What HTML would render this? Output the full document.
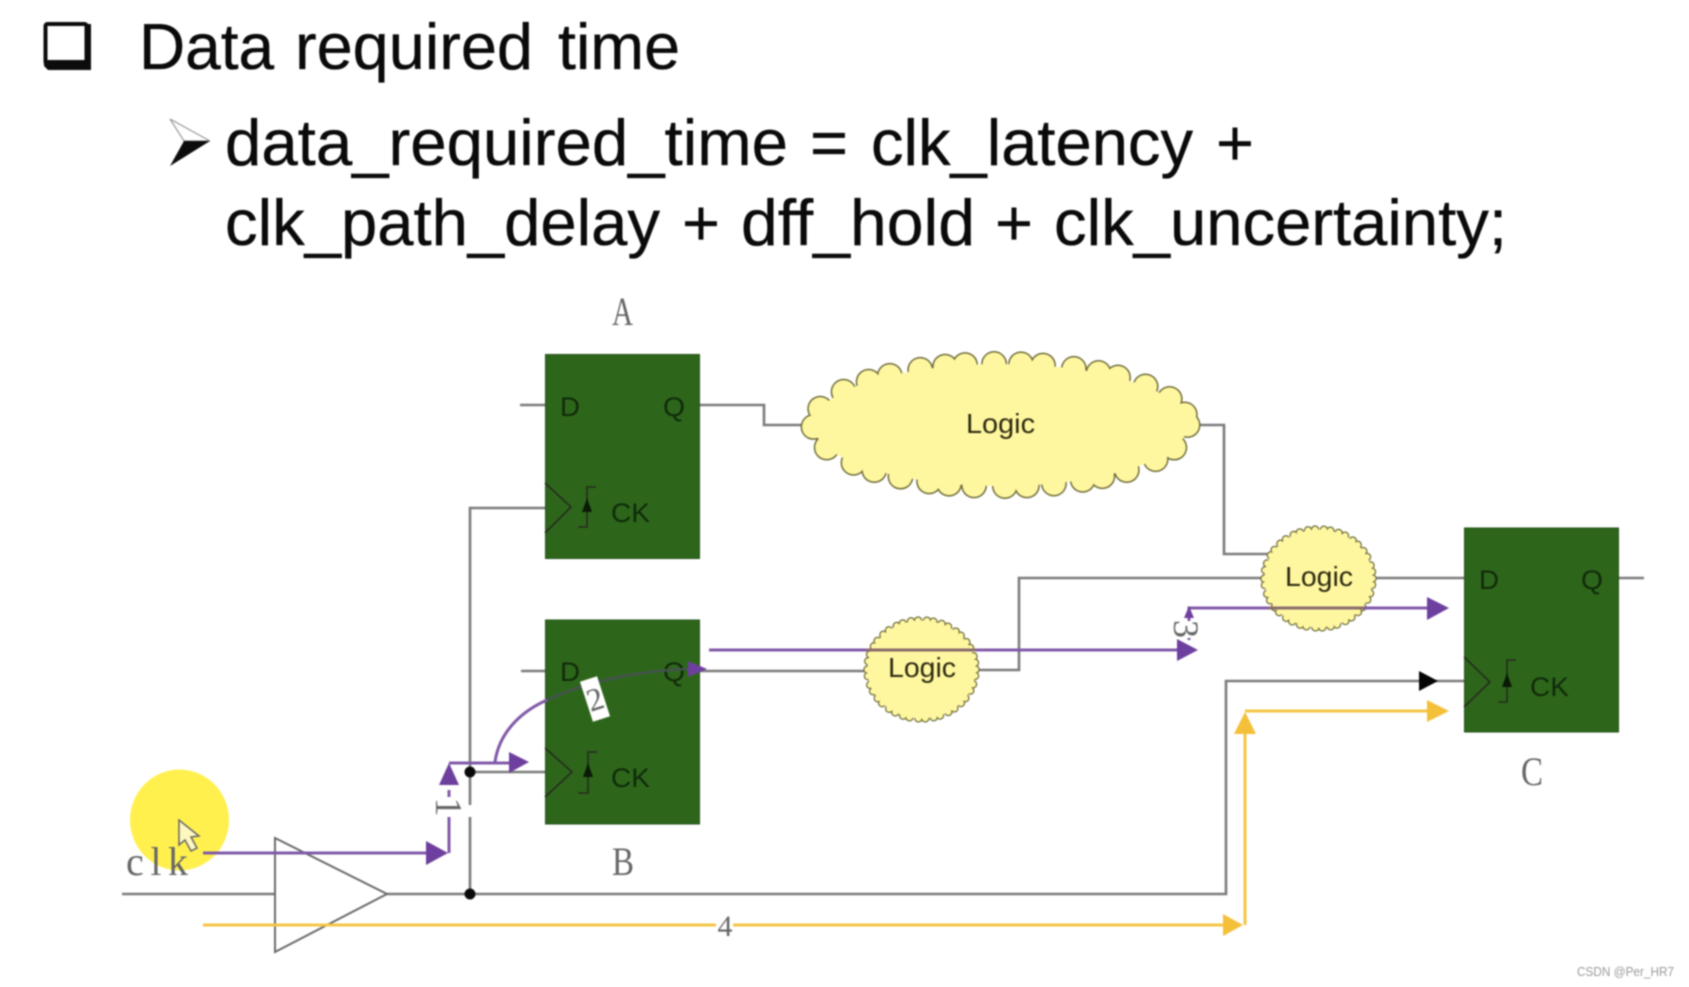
<!DOCTYPE html>
<html><head><meta charset="utf-8"><title>Data required time</title>
<style>
html,body{margin:0;padding:0;background:#fff;width:1689px;height:987px;overflow:hidden}
svg{display:block;filter:blur(.7px)}
.t{font-family:"Liberation Sans",Arial,sans-serif;font-size:65px;fill:#0a0a0a;stroke:#0a0a0a;stroke-width:.35}
.p{font-family:"Liberation Sans",Arial,sans-serif;font-size:27px;fill:#102a0a}
.l{font-family:"Liberation Sans",Arial,sans-serif;font-size:28px;fill:#2c2a10}
.s{font-family:"Liberation Serif","Noto Serif CJK SC",serif;fill:#666}
.g{fill:none;stroke:#7b7b7b;stroke-width:2.6}
.d{fill:none;stroke:#262b1e;stroke-width:1.6}
.v{fill:none;stroke:#8059a8;stroke-width:3}
.y{fill:none;stroke:#f4c544;stroke-width:3}
</style></head><body>
<svg width="1689" height="987" viewBox="0 0 1689 987" xmlns="http://www.w3.org/2000/svg">
<rect width="1689" height="987" fill="#fff"/>

<!-- bullets -->
<rect x="45.5" y="24" width="41" height="40" fill="#fff" stroke="#0c0c0c" stroke-width="4" rx="2"/>
<path d="M44 60H91V70H48L44 66ZM85 24H91V66H85Z" fill="#0c0c0c"/>
<path d="M170 119L210 141L184 141Z" fill="#fff" stroke="#999" stroke-width="1.2"/>
<path d="M170 166L210 141L184 141Z" fill="#0c0c0c"/>

<!-- heading text -->
<text class="t" x="139" y="69" textLength="135" lengthAdjust="spacingAndGlyphs">Data</text>
<text class="t" x="295" y="69" textLength="238" lengthAdjust="spacingAndGlyphs">required</text>
<text class="t" x="558" y="69" textLength="122" lengthAdjust="spacingAndGlyphs">time</text>
<text class="t" x="225" y="165" textLength="563" lengthAdjust="spacingAndGlyphs">data_required_time</text>
<text class="t" x="810" y="165">=</text>
<text class="t" x="871" y="165" textLength="322" lengthAdjust="spacingAndGlyphs">clk_latency</text>
<text class="t" x="1216" y="165">+</text>
<text class="t" x="225" y="245" textLength="435" lengthAdjust="spacingAndGlyphs">clk_path_delay</text>
<text class="t" x="682" y="245">+</text>
<text class="t" x="741" y="245" textLength="234" lengthAdjust="spacingAndGlyphs">dff_hold</text>
<text class="t" x="995" y="245">+</text>
<text class="t" x="1054" y="245" textLength="453" lengthAdjust="spacingAndGlyphs">clk_uncertainty;</text>

<!-- yellow highlight -->
<ellipse cx="179.5" cy="820" rx="49.5" ry="50.5" fill="#fff04e"/>

<!-- wires -->
<path class="g" d="M122 894H275M387 894H1226V681H1464"/>
<path class="g" d="M470 894V508H545M470 772H545"/>
<path class="g" d="M520 405H545M700 405H764V425H810M1190 425H1224V554H1270"/>
<path class="g" d="M521 671H545M700 671H870M975 670H1019V578H1266M1370 578H1464M1619 578H1644"/>
<rect x="466" y="805" width="8" height="12" fill="#fff"/>

<!-- logic clouds -->
<ellipse cx="1000.5" cy="425" rx="187" ry="61" fill="none" stroke="#6f6d3a" stroke-width="26" stroke-linecap="round" stroke-dasharray="0 27 0 22 0 31 0 25 0 20 0 29"/>
<ellipse cx="1000.5" cy="425" rx="187" ry="61" fill="none" stroke="#fff7a0" stroke-width="23" stroke-linecap="round" stroke-dasharray="0 27 0 22 0 31 0 25 0 20 0 29"/>
<ellipse cx="1000.5" cy="425" rx="187" ry="61" fill="#fff7a0"/>
<text class="l" x="966" y="433" textLength="69" lengthAdjust="spacingAndGlyphs">Logic</text>

<ellipse cx="921.5" cy="669.5" rx="54" ry="49" fill="none" stroke="#6f6d3a" stroke-width="8.5" stroke-linecap="round" stroke-dasharray="0 6.5 0 8.5 0 7 0 9"/>
<ellipse cx="921.5" cy="669.5" rx="54" ry="49" fill="none" stroke="#fff7a0" stroke-width="6" stroke-linecap="round" stroke-dasharray="0 6.5 0 8.5 0 7 0 9"/>
<ellipse cx="921.5" cy="669.5" rx="54" ry="49" fill="#fff7a0"/>
<text class="l" x="888" y="677" textLength="68" lengthAdjust="spacingAndGlyphs">Logic</text>

<ellipse cx="1318.5" cy="578.5" rx="54" ry="49" fill="none" stroke="#6f6d3a" stroke-width="8.5" stroke-linecap="round" stroke-dasharray="0 6.5 0 8.5 0 7 0 9"/>
<ellipse cx="1318.5" cy="578.5" rx="54" ry="49" fill="none" stroke="#fff7a0" stroke-width="6" stroke-linecap="round" stroke-dasharray="0 6.5 0 8.5 0 7 0 9"/>
<ellipse cx="1318.5" cy="578.5" rx="54" ry="49" fill="#fff7a0"/>
<text class="l" x="1285" y="586" textLength="68" lengthAdjust="spacingAndGlyphs">Logic</text>

<!-- FF A -->
<rect x="545.5" y="354.5" width="154" height="204" fill="#2d661b" stroke="#24521a" stroke-width="1"/>
<path class="d" d="M545 483L571 507L545 533M578 527H587V487H596"/>
<path d="M587 498L582 512H592Z" fill="#0a1a06"/>
<text class="p" x="560" y="416" textLength="20" lengthAdjust="spacingAndGlyphs">D</text>
<text class="p" x="663" y="416" textLength="22" lengthAdjust="spacingAndGlyphs">Q</text>
<text class="p" x="611" y="522" textLength="39" lengthAdjust="spacingAndGlyphs">CK</text>

<!-- FF B -->
<rect x="545.5" y="620" width="154" height="204" fill="#2d661b" stroke="#24521a" stroke-width="1"/>
<path class="d" d="M545 748L572 772L545 797M578 793H588V752H597"/>
<path d="M588 763L583 777H593Z" fill="#0a1a06"/>
<text class="p" x="560" y="681" textLength="20" lengthAdjust="spacingAndGlyphs">D</text>
<text class="p" x="663" y="681" textLength="22" lengthAdjust="spacingAndGlyphs">Q</text>
<text class="p" x="611" y="787" textLength="39" lengthAdjust="spacingAndGlyphs">CK</text>

<!-- FF C -->
<rect x="1464.5" y="528" width="154" height="204" fill="#2d661b" stroke="#24521a" stroke-width="1"/>
<path class="d" d="M1464 657L1490 682L1464 707M1498 702H1507V660H1516"/>
<path d="M1507 673L1502 687H1512Z" fill="#0a1a06"/>
<text class="p" x="1479" y="589" textLength="20" lengthAdjust="spacingAndGlyphs">D</text>
<text class="p" x="1581" y="589" textLength="22" lengthAdjust="spacingAndGlyphs">Q</text>
<text class="p" x="1530" y="696" textLength="39" lengthAdjust="spacingAndGlyphs">CK</text>

<!-- buffer -->
<path d="M275 838L387 894L275 952Z" fill="none" stroke="#6a6a6a" stroke-width="2"/>

<!-- junctions -->
<circle cx="470" cy="894" r="5.5" fill="#0a0a0a"/>
<circle cx="470" cy="772" r="5.5" fill="#0a0a0a"/>

<!-- black arrow -->
<path d="M1419 671L1438 681L1419 691Z" fill="#050505"/>

<!-- purple path -->
<path class="v" d="M203 853H430M449 853V790M449 763H512"/>
<path d="M426 841L448 853L426 865Z" fill="#6d3f9e"/>
<path d="M449 763L439 785H459Z" fill="#6d3f9e"/>
<path d="M509 752L529 762L509 773Z" fill="#6d3f9e"/>
<path class="v" d="M495 762C499 733 520 712 547 700"/>
<path d="M547 700C585 682 640 670 690 669" fill="none" stroke="#45524f" stroke-width="2.6"/>
<path d="M688 661L707 669L688 677Z" fill="#6d3f9e"/>
<path class="v" d="M709 650H1180"/>
<path d="M866 650H976" fill="none" stroke="#8a6a6a" stroke-width="3"/>
<path d="M1177 639L1198 650L1177 661Z" fill="#6d3f9e"/>
<path class="v" d="M1189 640V608H1430"/>
<path d="M1268 608H1364" fill="none" stroke="#8a6a6a" stroke-width="3"/>
<path d="M1189 606L1184 618H1194Z" fill="#6d3f9e"/>
<path d="M1427 597L1449 608L1427 620Z" fill="#6d3f9e"/>

<!-- orange path -->
<path class="y" d="M203 925H1226M1245 925V730M1245 711H1430"/>
<path d="M1223 914L1243 925L1223 936Z" fill="#f4c03a"/>
<path d="M1245 712L1234 734H1256Z" fill="#f4c03a"/>
<path d="M1427 700L1449 711L1427 722Z" fill="#f4c03a"/>

<!-- path number labels -->
<rect x="436" y="797" width="26" height="20" fill="#fff"/>
<text class="s" font-size="38" text-anchor="middle" transform="translate(436,807) rotate(90)">1</text>
<g transform="translate(595,699) rotate(-18)">
<rect x="-9" y="-21" width="18" height="42" fill="#fff"/>
<text class="s" font-size="32" text-anchor="middle" y="11" fill="#555">2</text>
</g>
<rect x="1176" y="621" width="22" height="17" fill="#fff"/>
<text class="s" font-size="36" text-anchor="middle" transform="translate(1174,629) rotate(90)" fill="#555">3</text>
<rect x="716" y="912" width="17" height="26" fill="#fff"/>
<text class="s" font-size="30" text-anchor="middle" x="725" y="936" fill="#555">4</text>

<!-- serif labels -->
<text class="s" font-size="40" x="612" y="325" textLength="21" lengthAdjust="spacingAndGlyphs">A</text>
<text class="s" font-size="40" x="612" y="875" textLength="22" lengthAdjust="spacingAndGlyphs">B</text>
<text class="s" font-size="40" x="1521" y="785" textLength="22" lengthAdjust="spacingAndGlyphs">C</text>
<text class="s" font-size="40" x="126" y="875" textLength="62">clk</text>

<!-- cursor -->
<path d="M179 820V845L185 840L191 851L197 848L191 837L199 836Z" fill="#fdf7c0" stroke="#666" stroke-width="1.5"/>

<!-- watermark -->
<text x="1577" y="976" font-family="Liberation Sans,Arial,sans-serif" font-size="12.5" fill="#9a9a9a" textLength="97" lengthAdjust="spacingAndGlyphs">CSDN @Per_HR7</text>
</svg>
</body></html>
